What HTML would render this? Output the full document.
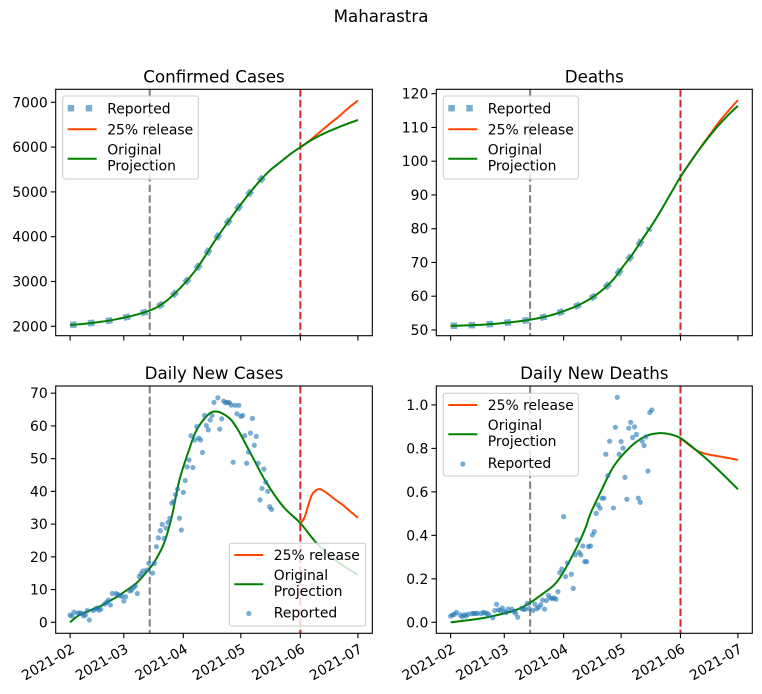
<!DOCTYPE html>
<html><head><meta charset="utf-8">
<style>
html,body{margin:0;padding:0;background:#fff;}
svg{display:block;font-family:"DejaVu Sans","Liberation Sans",sans-serif;}
</style></head>
<body>
<svg id="fig" width="762" height="694" viewBox="0 0 762 694" xmlns="http://www.w3.org/2000/svg">
<rect x="0" y="0" width="762" height="694" fill="#fff"/>
<text x="381" y="22" font-size="16.7" text-anchor="middle" fill="#000">Maharastra</text>
</svg>
<script>
// ---- shared x data (days since 2021-02-01) ----
const xTickDays = [0, 28, 59, 89, 120, 150];
const xTickLabels = ["2021-02", "2021-03", "2021-04", "2021-05", "2021-06", "2021-07"];
const lockdownDay = 41.5;
const releaseDay = 120;

// ---- Confirmed cases ----
const casesProjDays = [0,5,10,15,20,25,30,35,40,45,50,55,60,65,70,75,80,85,90,95,100,105,110,115,120,125,130,135,140,145,150];
const casesOriginal = [2030,2045,2068,2095,2125,2165,2210,2265,2330,2420,2560,2750,2975,3230,3540,3880,4190,4490,4780,5050,5300,5510,5680,5850,5996,6135,6255,6355,6445,6528,6605];
const casesReleaseDays = [120,125,130,135,140,145,150];
const casesRelease = [5996,6150,6330,6510,6680,6870,7040];
const casesReportedDays = [0,5,10,15,20,25,30,35,40,45,50,55,60,65,70,75,80,85,90,95,100,104];
const casesReported = [2030,2045,2068,2095,2125,2165,2210,2265,2330,2420,2560,2750,2975,3230,3540,3880,4190,4490,4780,5050,5300,5470];
const casesTicks = [2000,3000,4000,5000,6000,7000];

// ---- Deaths ----
const deathsOriginal = [51.2,51.3,51.4,51.5,51.7,51.9,52.2,52.5,52.9,53.4,54.0,54.8,55.8,56.9,58.3,60.0,62.2,65.0,68.8,72.5,76.8,81.0,85.6,90.5,95.4,99.6,103.6,107.3,110.7,113.7,116.4];
const deathsRelease = [95.4,99.6,103.7,107.6,111.5,114.9,118.1];
const deathsReported = [51.2,51.3,51.4,51.5,51.7,51.9,52.2,52.5,52.9,53.4,54.0,54.8,55.8,56.9,58.3,60.0,62.2,65.0,68.8,72.5,76.8,80.2];
const deathsTicks = [50,60,70,80,90,100,110,120];

// ---- Daily new cases ----
const dailyCasesProjDays = [0,4,9,16,23,28,35,41,44,49,53,57,62,66,72,76,80,84,88,95,102,111,120,128,137,150];
const dailyCasesOriginal = [0,1.9,3.3,5.0,7.3,9.2,12.2,16.2,18.5,24.2,32.3,43.5,52.7,58.8,63.5,64.4,63.6,61.8,58.3,50.6,43.0,35.4,30.3,24.5,19.5,14.5];
const dailyCasesReleaseDays = [120,122,124,126,128,130,132,134,138,142,146,150];
const dailyCasesRelease = [30.3,31.8,35.5,38.9,40.3,40.7,40.2,39.4,37.6,35.9,33.9,31.9];
const dailyCasesRepDays = [0,1,2,4,5,6,7,8,9,10,12,13,14,15,16,18,19,20,21,22,24,25,26,27,28,29,31,32,33,34,35,36,37,38,40,41,43,44,45,46,47,48,49,50,51,52,53,54,55,56,57,58,59,60,61,62,63,64,65,66,67,68,69,70,71,72,73,74,75,77,78,79,80,81,82,83,84,85,86,87,88,89,90,91,92,93,94,95,96,97,98,99,100,101,102,103,104,105];
const dailyCasesRep = [2.2,1.9,3.1,2.8,2.8,2.8,2.0,2.2,3.6,0.7,3.6,4.0,4.4,3.7,4.0,5.6,6.1,6.8,5.3,8.8,8.8,8.5,8.1,8.0,6.5,7.8,9.6,9.8,10.6,11.1,8.8,14.0,14.8,15.7,16.0,18.0,15.0,18.0,23.1,25.8,28.0,29.9,25.6,28.8,30.5,31.8,36.4,36.9,39.0,40.7,31.8,28.2,39.7,43.3,47.5,49.6,57.0,47.3,55.7,59.8,56.3,55.7,51.9,63.2,60.1,58.8,61.8,63.2,67.2,68.6,59.0,62.2,67.6,67.1,67.2,67.1,66.4,48.9,66.3,63.7,66.3,62.9,63.2,57.0,48.6,52.0,57.8,62.3,54.1,56.8,48.6,37.4,40.9,46.8,42.8,40.0,35.3,34.5];
const dailyCasesTicks = [0,10,20,30,40,50,60,70];

// ---- Daily new deaths ----
const dailyDeathsProjDays = [0,16,28,35,41,49,54,58,66,70,73,78,85,94,102,109,114,120,128,137,150];
const dailyDeathsOriginal = [0,0.018,0.041,0.060,0.087,0.137,0.172,0.218,0.348,0.425,0.50,0.594,0.716,0.808,0.857,0.870,0.866,0.847,0.793,0.724,0.612];
const dailyDeathsReleaseDays = [120,125,129,133,137,141,146,150];
const dailyDeathsRelease = [0.847,0.812,0.788,0.775,0.768,0.762,0.754,0.747];
const dailyDeathsRepDays = [0,1,2,3,5,6,7,8,9,11,12,13,14,16,17,18,19,20,22,23,24,25,26,27,28,29,30,32,33,34,35,37,38,39,40,41,43,44,45,46,47,48,49,50,51,52,53,54,55,56,57,58,59,60,61,63,64,65,66,67,68,69,70,71,72,73,74,75,76,77,78,79,80,81,82,83,85,86,87,88,89,90,91,92,93,94,95,96,97,98,99,100,101,102,103,104,105];
const dailyDeathsRep = [0.029,0.034,0.037,0.046,0.034,0.026,0.034,0.029,0.037,0.040,0.041,0.041,0.041,0.040,0.046,0.043,0.041,0.034,0.021,0.054,0.083,0.057,0.054,0.066,0.049,0.045,0.061,0.060,0.049,0.041,0.023,0.063,0.060,0.060,0.087,0.063,0.054,0.084,0.063,0.069,0.080,0.102,0.061,0.100,0.124,0.112,0.109,0.112,0.106,0.141,0.228,0.245,0.486,0.210,0.273,0.221,0.156,0.310,0.379,0.322,0.310,0.351,0.279,0.279,0.348,0.351,0.402,0.417,0.501,0.540,0.525,0.571,0.571,0.773,0.675,0.833,0.526,0.897,1.035,0.773,0.831,0.801,0.667,0.566,0.893,0.920,0.850,0.899,0.864,0.571,0.552,0.833,0.813,0.853,0.696,0.965,0.977];
const dailyDeathsTicks = [0,0.2,0.4,0.6,0.8,1.0];

const NS = "http://www.w3.org/2000/svg";
const svg = document.getElementById("fig");
const BLUE = "#1f77b4", GREEN = "#008000", ORANGE = "#ff4500", RED = "#d62728", GREY = "#808080";
const LW = 2.0;

function mk(tag, attrs, parent) {
  const e = document.createElementNS(NS, tag);
  for (const k in attrs) e.setAttribute(k, attrs[k]);
  (parent || svg).appendChild(e);
  return e;
}

function smoothPath(pts) {
  let d = "M" + pts[0][0].toFixed(2) + "," + pts[0][1].toFixed(2);
  for (let i = 0; i < pts.length - 1; i++) {
    const p0 = pts[Math.max(0, i - 1)], p1 = pts[i], p2 = pts[i + 1], p3 = pts[Math.min(pts.length - 1, i + 2)];
    const c1x = p1[0] + (p2[0] - p0[0]) / 6, c1y = p1[1] + (p2[1] - p0[1]) / 6;
    const c2x = p2[0] - (p3[0] - p1[0]) / 6, c2y = p2[1] - (p3[1] - p1[1]) / 6;
    d += " C" + c1x.toFixed(2) + "," + c1y.toFixed(2) + " " + c2x.toFixed(2) + "," + c2y.toFixed(2) + " " + p2[0].toFixed(2) + "," + p2[1].toFixed(2);
  }
  return d;
}

function makeAxes(cfg) {
  const g = mk("g", {});
  
  
  const xs = d => cfg.x0 + (d - (-7.5)) / 165 * (cfg.x1 - cfg.x0);
  const ys = v => cfg.y1 - (v - cfg.ymin) / (cfg.ymax - cfg.ymin) * (cfg.y1 - cfg.y0);
  const clipId = "clip-" + cfg.name;
  const cp = mk("clipPath", {id: clipId}, g);
  mk("rect", {x: cfg.x0, y: cfg.y0, width: cfg.x1 - cfg.x0, height: cfg.y1 - cfg.y0}, cp);
  const plot = mk("g", {"clip-path": "url(#" + clipId + ")"}, g);

  const t = mk("text", {x: (cfg.x0 + cfg.x1) / 2, y: cfg.y0 - 7, "font-size": 16.7, "text-anchor": "middle", fill: "#000"}, g);
  t.textContent = cfg.title;
  
  

  cfg.yticks.forEach(v => {
    const y = ys(v);
    mk("line", {x1: cfg.x0 - 4.9, x2: cfg.x0, y1: y, y2: y, stroke: "#000", "stroke-width": 1.1}, g);
    const tl = mk("text", {x: cfg.x0 - 8, y: y + 5, "font-size": 13.9, "text-anchor": "end", fill: "#000"}, g);
    tl.textContent = cfg.yfmt(v);
    
    
  });
  xTickDays.forEach((d, i) => {
    const x = xs(d);
    mk("line", {x1: x, x2: x, y1: cfg.y1, y2: cfg.y1 + 4.9, stroke: "#000", "stroke-width": 1.1}, g);
    if (cfg.xlabels) {
      const ty = cfg.y1 + 9;
      const tl = mk("text", {x: x, y: ty, dy: "0.78em", "font-size": 13.9, "text-anchor": "end", fill: "#000", transform: "rotate(-30 " + x + " " + ty + ")"}, g);
      tl.textContent = xTickLabels[i];
      
      
    }
  });

  const line = (days, vals, color, name) => {
    const pts = days.map((d, i) => [xs(d), ys(vals[i])]);
    const p = mk("path", {d: smoothPath(pts), fill: "none", stroke: color, "stroke-width": LW, "stroke-linejoin": "round"}, plot);
    
    
  };
  const dotted = (days, vals) => {
    const pts = days.map((d, i) => [xs(d), ys(vals[i])]);
    const p = mk("path", {d: smoothPath(pts), fill: "none", stroke: BLUE, "stroke-opacity": 0.6, "stroke-width": 6.5, "stroke-dasharray": "6.5 11.5"}, plot);
    
    
  };
  const scatter = (days, vals) => {
    const sg = mk("g", {}, plot);
    
    
    days.forEach((d, i) => {
      const c = mk("circle", {cx: xs(d), cy: ys(vals[i]), r: 2.6, fill: BLUE, "fill-opacity": 0.6}, sg);
      
      
    });
  };
  const vline = (d, color, name) => {
    const l = mk("line", {x1: xs(d), x2: xs(d), y1: cfg.y0, y2: cfg.y1, stroke: color, "stroke-width": LW, "stroke-dasharray": "7.4 3.2"}, plot);
    
    
  };

  cfg.draw({line, dotted, scatter, vline});

  mk("rect", {x: cfg.x0, y: cfg.y0, width: cfg.x1 - cfg.x0, height: cfg.y1 - cfg.y0, fill: "none", stroke: "#000", "stroke-width": 1.1}, g);

  const L = cfg.legend;
  const lg = mk("g", {}, g);
  
  
  mk("rect", {x: L.x, y: L.y, width: L.w, height: L.h, rx: 2.5, fill: "#fff", "fill-opacity": 0.8, stroke: "#cccccc", "stroke-width": 1}, lg);
  L.items.forEach(it => {
    const hx = L.x + 5, tx = L.x + 44.5;
    if (it.kind === "line") {
      mk("line", {x1: hx, x2: hx + 29, y1: it.y, y2: it.y, stroke: it.color, "stroke-width": LW}, lg);
    } else if (it.kind === "dotted") {
      mk("line", {x1: hx, x2: hx + 29, y1: it.y, y2: it.y, stroke: BLUE, "stroke-opacity": 0.6, "stroke-width": 6.5, "stroke-dasharray": "6.5 11.5"}, lg);
    } else {
      mk("circle", {cx: hx + 14.5, cy: it.y + 1, r: 2.6, fill: BLUE, "fill-opacity": 0.6}, lg);
    }
    it.text.forEach((s, k) => {
      const by = it.text.length > 1 ? (k === 0 ? it.y - 4.3 : it.y + 11.7) : it.y + 5;
      const te = mk("text", {x: tx, y: by, "font-size": 13.9, fill: "#000"}, lg);
      te.textContent = s;
      
      
    });
  });
}

const fmtInt = v => String(v);
const fmt1 = v => v.toFixed(1);

makeAxes({name: "confirmed-cases-chart", title: "Confirmed Cases", x0: 55.7, x1: 372.3, y0: 89.3, y1: 335.7, ymin: 1790, ymax: 7290, yticks: casesTicks, yfmt: fmtInt, xlabels: false,
  draw: a => {
    a.dotted(casesReportedDays, casesReported);
    a.vline(lockdownDay, GREY, 'lockdown-line');
    a.vline(releaseDay, RED, 'release-line');
    a.line(casesReleaseDays, casesRelease, ORANGE, 'release-25-line');
    a.line(casesProjDays, casesOriginal, GREEN, 'original-projection-line');
  },
  legend: {x: 62.7, y: 96, w: 135.6, h: 83, items: [
    {kind: "dotted", y: 108.3, text: ["Reported"]},
    {kind: "line", color: ORANGE, y: 129.3, text: ["25% release"]},
    {kind: "line", color: GREEN, y: 158.8, text: ["Original", "Projection"]}]}
});

makeAxes({name: "deaths-chart", title: "Deaths", x0: 436.3, x1: 752.3, y0: 89.3, y1: 335.7, ymin: 48.3, ymax: 121.3, yticks: deathsTicks, yfmt: fmtInt, xlabels: false,
  draw: a => {
    a.dotted(casesReportedDays, deathsReported);
    a.vline(lockdownDay, GREY, 'lockdown-line');
    a.vline(releaseDay, RED, 'release-line');
    a.line(casesReleaseDays, deathsRelease, ORANGE, 'release-25-line');
    a.line(casesProjDays, deathsOriginal, GREEN, 'original-projection-line');
  },
  legend: {x: 443.3, y: 96, w: 135, h: 83, items: [
    {kind: "dotted", y: 108.3, text: ["Reported"]},
    {kind: "line", color: ORANGE, y: 129.3, text: ["25% release"]},
    {kind: "line", color: GREEN, y: 158.8, text: ["Original", "Projection"]}]}
});

makeAxes({name: "daily-new-cases-chart", title: "Daily New Cases", x0: 55.7, x1: 372.3, y0: 386, y1: 633.3, ymin: -3.36, ymax: 72.2, yticks: dailyCasesTicks, yfmt: fmtInt, xlabels: true,
  draw: a => {
    a.vline(lockdownDay, GREY, 'lockdown-line');
    a.vline(releaseDay, RED, 'release-line');
    a.line(dailyCasesReleaseDays, dailyCasesRelease, ORANGE, 'release-25-line');
    a.line(dailyCasesProjDays, dailyCasesOriginal, GREEN, 'original-projection-line');
    a.scatter(dailyCasesRepDays, dailyCasesRep);
  },
  legend: {x: 229.3, y: 543.3, w: 136.4, h: 82.7, items: [
    {kind: "line", color: ORANGE, y: 555, text: ["25% release"]},
    {kind: "line", color: GREEN, y: 584.3, text: ["Original", "Projection"]},
    {kind: "dot", y: 612.5, text: ["Reported"]}]}
});

makeAxes({name: "daily-new-deaths-chart", title: "Daily New Deaths", x0: 436.3, x1: 752.3, y0: 386, y1: 633.3, ymin: -0.0506, ymax: 1.087, yticks: dailyDeathsTicks, yfmt: fmt1, xlabels: true,
  draw: a => {
    a.vline(lockdownDay, GREY, 'lockdown-line');
    a.vline(releaseDay, RED, 'release-line');
    a.line(dailyDeathsReleaseDays, dailyDeathsRelease, ORANGE, 'release-25-line');
    a.line(dailyDeathsProjDays, dailyDeathsOriginal, GREEN, 'original-projection-line');
    a.scatter(dailyDeathsRepDays, dailyDeathsRep);
  },
  legend: {x: 443.3, y: 393.3, w: 135, h: 82.7, items: [
    {kind: "line", color: ORANGE, y: 405, text: ["25% release"]},
    {kind: "line", color: GREEN, y: 434.3, text: ["Original", "Projection"]},
    {kind: "dot", y: 463, text: ["Reported"]}]}
});
</script>
</body></html>
